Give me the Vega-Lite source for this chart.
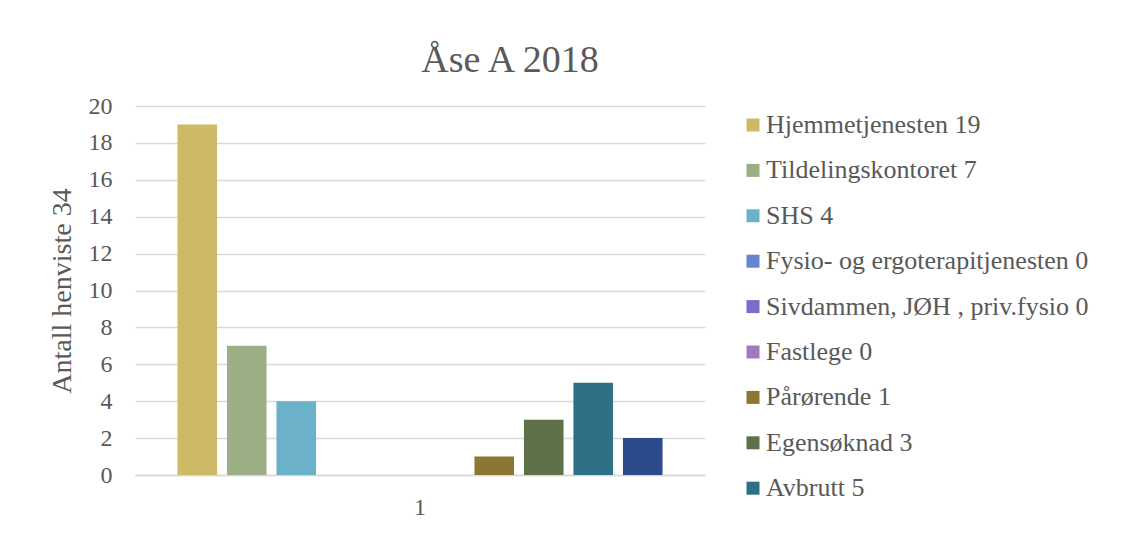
{
  "$schema": "https://vega.github.io/schema/vega-lite/v6.json",
  "autosize": {"type": "none"},
  "width": 570,
  "height": 369,
  "padding": {"left": 135, "top": 106, "right": 425, "bottom": 68},
  "background": "white",
  "title": {
    "text": "Åse A 2018",
    "fontSize": 38,
    "font": "Liberation Serif",
    "fontWeight": "normal",
    "color": "#595959",
    "anchor": "middle",
    "frame": "group",
    "baseline": "alphabetic",
    "offset": 33,
    "dy": 49,
    "dx": 90
  },
  "data": {
    "values": [
      {"kategori": "1", "kilde": "Hjemmetjenesten 19", "antall": 19},
      {"kategori": "1", "kilde": "Tildelingskontoret 7", "antall": 7},
      {"kategori": "1", "kilde": "SHS 4", "antall": 4},
      {"kategori": "1", "kilde": "Fysio- og ergoterapitjenesten 0", "antall": 0},
      {"kategori": "1", "kilde": "Sivdammen, JØH , priv.fysio 0", "antall": 0},
      {"kategori": "1", "kilde": "Fastlege 0", "antall": 0},
      {"kategori": "1", "kilde": "Pårørende 1", "antall": 1},
      {"kategori": "1", "kilde": "Egensøknad 3", "antall": 3},
      {"kategori": "1", "kilde": "Avbrutt 5", "antall": 5},
      {"kategori": "1", "kilde": "Avslått 2", "antall": 2}
    ]
  },
  "mark": {"type": "bar"},
  "encoding": {
    "x": {
      "field": "kategori",
      "type": "nominal",
      "scale": {"paddingInner": 0, "paddingOuter": 0.0758},
      "axis": {
        "title": null,
        "labelAngle": 0,
        "labelFont": "Liberation Serif",
        "labelFontSize": 24,
        "labelColor": "#595959",
        "labelPadding": 20,
        "ticks": false,
        "domainColor": "#d9d9d9",
        "domainWidth": 1.5
      }
    },
    "xOffset": {
      "field": "kilde",
      "type": "nominal",
      "sort": null,
      "scale": {"paddingInner": 0.2, "paddingOuter": 0.1}
    },
    "y": {
      "field": "antall",
      "type": "quantitative",
      "scale": {"domain": [0, 20]},
      "axis": {
        "title": "Antall henviste 34",
        "titleFont": "Liberation Serif",
        "titleFontSize": 28,
        "titleFontWeight": "normal",
        "titleColor": "#595959",
        "titlePadding": 12,
        "values": [0, 2, 4, 6, 8, 10, 12, 14, 16, 18, 20],
        "labelFont": "Liberation Serif",
        "labelFontSize": 24,
        "labelColor": "#595959",
        "labelPadding": 23,
        "ticks": false,
        "domain": false,
        "gridColor": "#d9d9d9",
        "gridWidth": 1.5
      }
    },
    "color": {
      "field": "kilde",
      "type": "nominal",
      "sort": null,
      "scale": {
        "domain": [
          "Hjemmetjenesten 19",
          "Tildelingskontoret 7",
          "SHS 4",
          "Fysio- og ergoterapitjenesten 0",
          "Sivdammen, JØH , priv.fysio 0",
          "Fastlege 0",
          "Pårørende 1",
          "Egensøknad 3",
          "Avbrutt 5",
          "Avslått 2"
        ],
        "range": ["#ceb966", "#9caf84", "#6bb1c9", "#6585cf", "#7e6bc9", "#a379bb", "#8b7731", "#5e7149", "#2f7087", "#2c4b8c"]
      },
      "legend": {
        "title": null,
        "orient": "none",
        "legendX": 605,
        "legendY": 6,
        "values": [
          "Hjemmetjenesten 19",
          "Tildelingskontoret 7",
          "SHS 4",
          "Fysio- og ergoterapitjenesten 0",
          "Sivdammen, JØH , priv.fysio 0",
          "Fastlege 0",
          "Pårørende 1",
          "Egensøknad 3",
          "Avbrutt 5"
        ],
        "symbolType": "square",
        "symbolSize": 169,
        "symbolStrokeWidth": 0,
        "labelFont": "Liberation Serif",
        "labelFontSize": 26,
        "labelColor": "#595959",
        "labelLimit": 400,
        "labelOffset": 0,
        "rowPadding": 19.4,
        "padding": 0
      }
    }
  },
  "config": {
    "font": "Liberation Serif",
    "legend": {"labelFont": "Liberation Serif"},
    "view": {"stroke": null}
  }
}
